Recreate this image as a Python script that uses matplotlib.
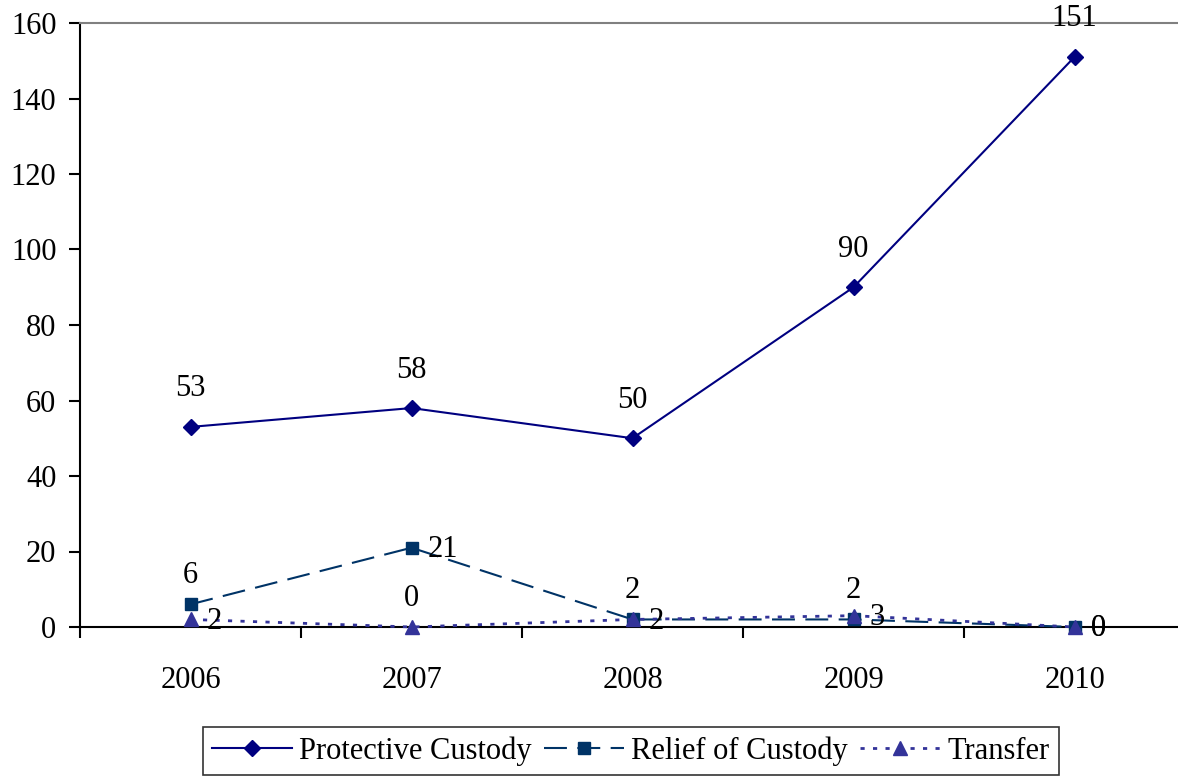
import matplotlib.pyplot as plt
import numpy as np

years = ['2006', '2007', '2008', '2009', '2010']
protective = [53, 58, 50, 90, 151]
relief = [6, 21, 2, 2, 0]
transfer = [2, 0, 2, 3, 0]

plt.rcParams['font.family'] = ['Liberation Serif', 'DejaVu Serif']
FS = 22

fig = plt.figure(figsize=(11.78, 7.77), dpi=100)
ax = fig.add_axes([80 / 1178, 1 - 627 / 777, 1105 / 1178, 604 / 777])

x = np.arange(len(years))

ax.plot(x, protective, color='#000080', lw=1.5, marker='D', ms=8,
        label='Protective Custody', clip_on=False, zorder=3)
ax.plot(x, relief, color='#003366', lw=1.5, ls=(0, (11, 5)), marker='s', ms=9,
        label='Relief of Custody', clip_on=False, zorder=3)
ax.plot(x, transfer, color='#333399', lw=2, ls=(0, (1.5, 3)), marker='^', ms=10,
        label='Transfer', clip_on=False, zorder=4)


def label(xi, yi, pos, dy_above):
    if pos == 'above':
        ax.annotate(str(yi), (xi, yi), xytext=(0, dy_above), textcoords='offset pixels',
                    ha='center', va='center', fontsize=FS, zorder=5)
    else:
        ax.annotate(str(yi), (xi, yi), xytext=(16, -2), textcoords='offset pixels',
                    ha='left', va='center', fontsize=FS, zorder=5)


for i, v in enumerate(protective):
    label(i, v, 'above', 38)
for i, (v, p) in enumerate(zip(relief, ['above', 'right', 'above', 'above', 'right'])):
    label(i, v, p, 29)
for i, (v, p) in enumerate(zip(transfer, ['right', 'above', 'right', 'right', 'right'])):
    label(i, v, p, 28)

ax.set_xlim(-0.5, 4.5)
ax.set_ylim(0, 160)
ax.set_yticks(range(0, 161, 20))
ax.set_xticks(x)
ax.set_xticklabels(years)
ax.set_xticks(np.arange(-0.5, 4.6, 1), minor=True)
ax.tick_params(axis='x', which='major', length=0, pad=28, labelsize=FS)
ax.tick_params(axis='x', which='minor', length=8, width=1.5, direction='out')
ax.tick_params(axis='y', length=8, width=1.5, direction='out', pad=9, labelsize=FS)

ax.spines['right'].set_visible(False)
ax.spines['top'].set_color('#808080')
ax.spines['top'].set_linewidth(1.5)
ax.spines['left'].set_linewidth(1.5)
ax.spines['bottom'].set_linewidth(1.5)

leg = fig.legend(loc='center', bbox_to_anchor=(631 / 1178, 1 - 751 / 777), ncol=3,
                 fontsize=FS, frameon=True, fancybox=False, edgecolor='black',
                 handlelength=2.6, handletextpad=0.25, columnspacing=0.4,
                 borderpad=0.3, borderaxespad=0)
leg.get_frame().set_linewidth(1.2)

fig.savefig('out.png', dpi=100)
